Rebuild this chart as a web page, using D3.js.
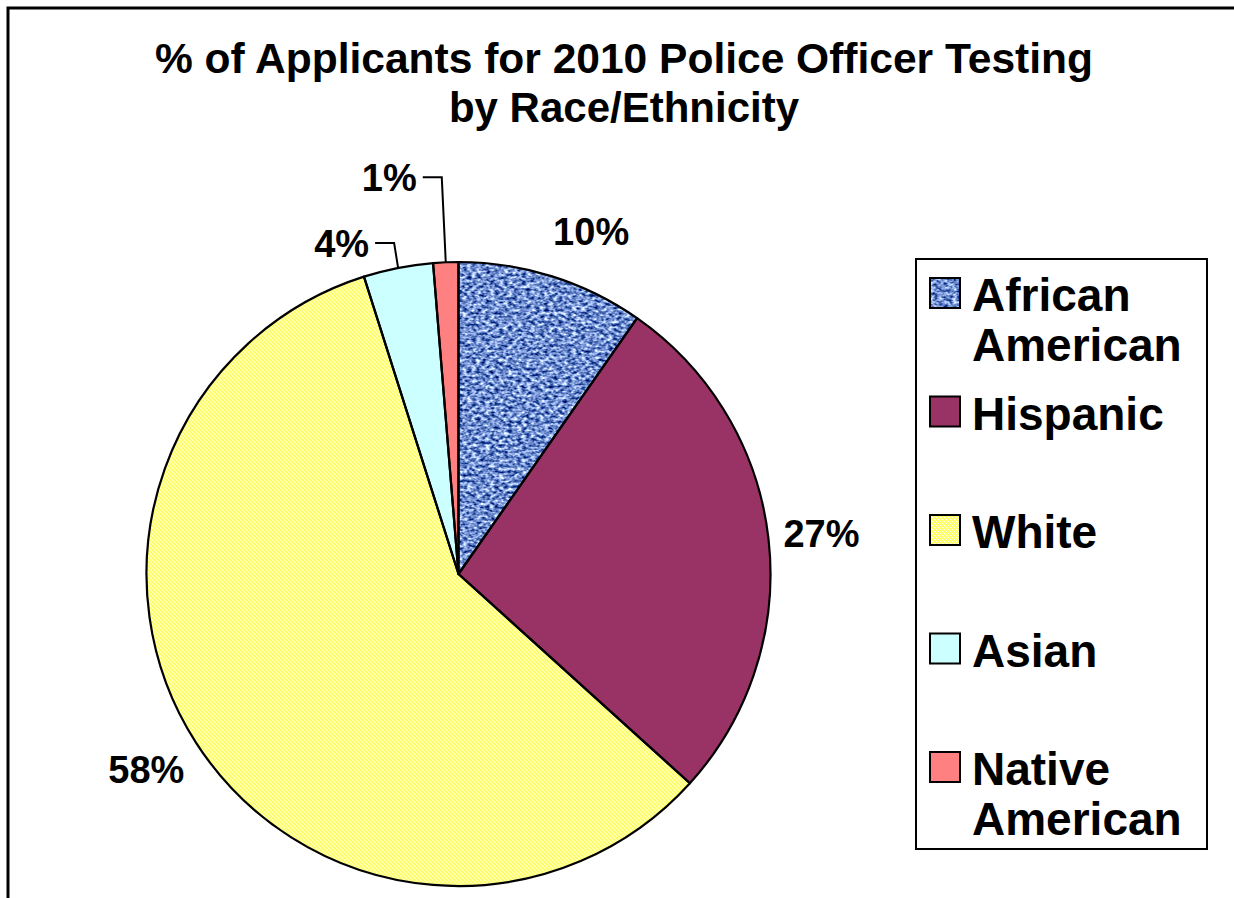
<!DOCTYPE html>
<html>
<head>
<meta charset="utf-8">
<script src="https://cdn.jsdelivr.net/npm/d3@7"></script>
<style>
  html, body { margin: 0; padding: 0; background: #fff; }
  svg { display: block; }
  text { font-family: "Liberation Sans", Arial, sans-serif; font-weight: bold; fill: #000; }
</style>
</head>
<body>
<svg id="chart" width="1234" height="898"></svg>
<script>
// Applicant shares by race/ethnicity (percent)
const categories = ["African American", "Hispanic", "White", "Asian", "Native American"];
const legendLines = [["African", "American"], ["Hispanic"], ["White"], ["Asian"], ["Native", "American"]];
const shares = [9.7, 27.0, 58.4, 3.6, 1.3];
const titleLines = ["% of Applicants for 2010 Police Officer Testing", "by Race/Ethnicity"];

// Fill for each slice (ids refer to textures defined below)
const fills = ["#6f8fce", "#993366", "url(#dotYellow)", "#ccffff", "#ff8080"];
const textured = [true, false, false, false, false];
// Small slices whose labels are lifted out with a leader line: [dx, dy] of the label end
const leaderOffsets = { 3: [-29, -25], 4: [-29, -85] };

const W = 1234, H = 898;
const svg = d3.select("#chart");
const defs = svg.append("defs");

// Woven blue texture: noise mapped onto a range of blue tones
const weave = defs.append("filter").attr("id", "weaveFx")
  .attr("x", 0).attr("y", 0).attr("width", 1).attr("height", 1)
  .attr("color-interpolation-filters", "sRGB");
weave.append("feTurbulence").attr("type", "fractalNoise")
  .attr("baseFrequency", "0.22 0.34").attr("numOctaves", 2).attr("seed", 7).attr("result", "noise");
weave.append("feColorMatrix").attr("in", "noise").attr("type", "matrix")
  .attr("values", "1.8 0 0 0 -0.46  1.65 0 0 0 -0.27  1.3 0 0 0 0.16  0 0 0 0 1")
  .attr("result", "tone");
weave.append("feComposite").attr("in", "tone").attr("in2", "SourceGraphic").attr("operator", "in");

// Yellow dotted texture
const dot = defs.append("pattern").attr("id", "dotYellow")
  .attr("patternUnits", "userSpaceOnUse").attr("width", 4).attr("height", 4);
dot.append("rect").attr("width", 4).attr("height", 4).attr("fill", "#ffff66");
[0, 1, 2, 3].forEach(i => dot.append("rect").attr("x", i).attr("y", i)
  .attr("width", 1).attr("height", 1).attr("fill", "#ffffff"));

// Outer frame (top and left edges)
svg.append("path").attr("d", `M8,${H} V8 H${W}`)
  .attr("fill", "none").attr("stroke", "#000").attr("stroke-width", 3);

// Title
svg.append("g").selectAll("text").data(titleLines).join("text")
  .attr("x", 624).attr("y", (d, i) => 73 + i * 49)
  .attr("text-anchor", "middle").attr("font-size", 42)
  .attr("textLength", (d, i) => i === 0 ? 938 : null)
  .attr("lengthAdjust", "spacingAndGlyphs")
  .text(d => d);

// Pie
const cx = 458.5, cy = 574, r = 312;
const pie = d3.pie().sort(null).value(d => d)(shares);
const arc = d3.arc().innerRadius(0).outerRadius(r);
const g = svg.append("g").attr("transform", `translate(${cx},${cy})`);

g.selectAll("path.fill").data(pie).join("path")
  .attr("class", "fill")
  .attr("d", arc)
  .attr("fill", (d, i) => fills[i])
  .attr("filter", (d, i) => textured[i] ? "url(#weaveFx)" : null);
g.selectAll("path.edge").data(pie).join("path")
  .attr("class", "edge")
  .attr("d", arc)
  .attr("fill", "none").attr("stroke", "#000").attr("stroke-width", 2.2)
  .attr("stroke-linejoin", "round");

// Percent labels
const fmt = v => d3.format(".0f")(v) + "%";
const labelR = r + 20, capH = 28;
pie.forEach((d, i) => {
  const a = (d.startAngle + d.endAngle) / 2;
  const s = Math.sin(a), c = Math.cos(a);
  if (leaderOffsets[i]) {
    const ex = r * s, ey = -r * c;
    const [dx, dy] = leaderOffsets[i];
    const lx = ex + dx, ly = ey + dy;
    g.append("text").attr("x", lx).attr("y", ly + capH / 2)
      .attr("text-anchor", "end").attr("font-size", 38).text(fmt(d.data));
    g.append("polyline")
      .attr("points", `${lx + 6},${ly} ${ex - 4},${ly} ${ex},${ey}`)
      .attr("fill", "none").attr("stroke", "#000").attr("stroke-width", 2);
  } else {
    const px = labelR * s, py = -labelR * c;
    const midY = py - capH * c;
    g.append("text")
      .attr("x", px - 5 * Math.sign(s)).attr("y", midY + capH / 2)
      .attr("text-anchor", s >= 0 ? "start" : "end")
      .attr("font-size", 38).text(fmt(d.data));
  }
});

// Legend
const lg = svg.append("g");
lg.append("rect").attr("x", 916).attr("y", 259).attr("width", 291).attr("height", 590)
  .attr("fill", "#fff").attr("stroke", "#000").attr("stroke-width", 2);
const step = 118.5;
const items = lg.selectAll("g.item").data(categories).join("g")
  .attr("class", "item")
  .attr("transform", (d, i) => `translate(930,${278 + i * step})`);
items.append("rect").attr("width", 30).attr("height", 30)
  .attr("fill", (d, i) => fills[i])
  .attr("filter", (d, i) => textured[i] ? "url(#weaveFx)" : null);
items.append("rect").attr("width", 30).attr("height", 30)
  .attr("fill", "none").attr("stroke", "#000").attr("stroke-width", 2);
items.each(function (d, i) {
  d3.select(this).selectAll("text").data(legendLines[i]).join("text")
    .attr("x", 42).attr("y", (t, j) => 33 + j * 50)
    .attr("font-size", 46).text(t => t);
});
</script>
</body>
</html>
